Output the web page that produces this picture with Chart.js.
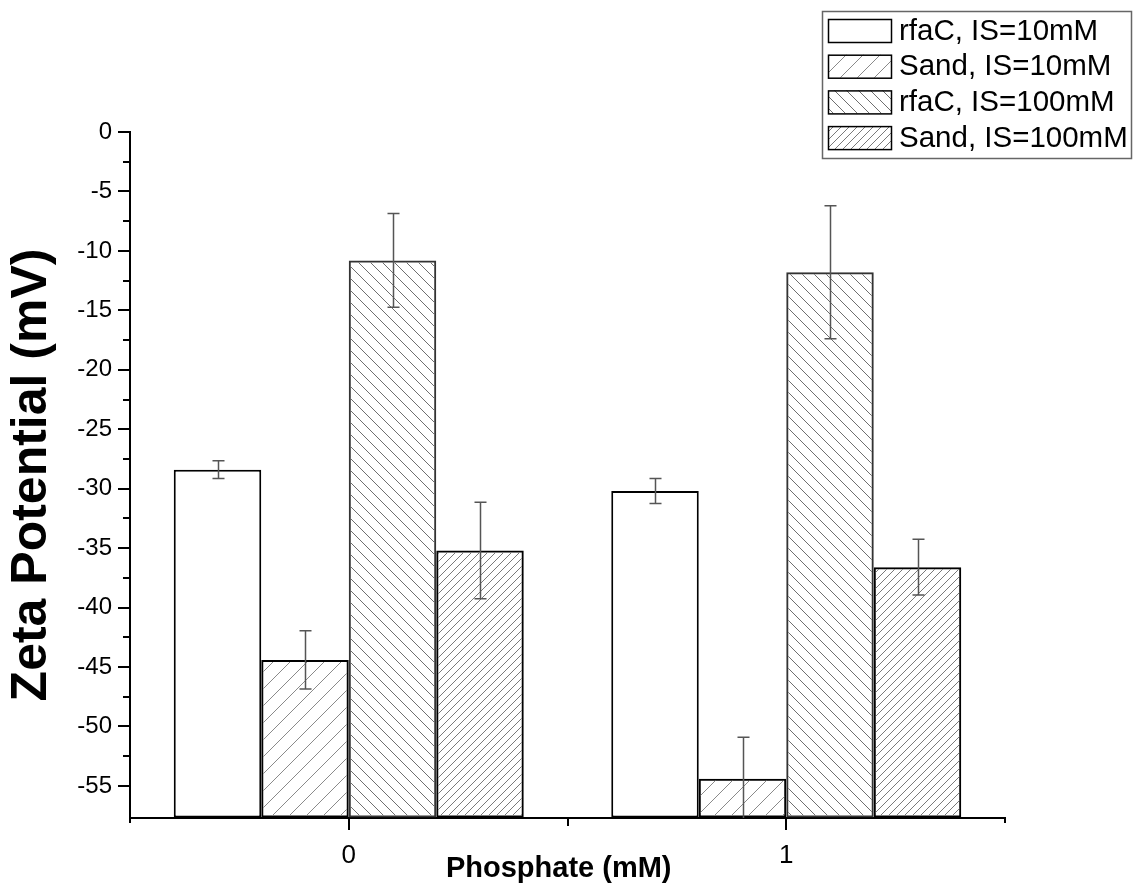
<!DOCTYPE html>
<html>
<head>
<meta charset="utf-8">
<script src="https://cdn.jsdelivr.net/npm/chart.js@4.4.1/dist/chart.umd.min.js"></script>
<style>
  html, body { margin: 0; padding: 0; background: #fff; }
  #wrap { width: 1133px; height: 890px; }
</style>
</head>
<body>
<div id="wrap"><canvas id="zeta"></canvas></div>
<script>
// Zeta potential per phosphate level
var phosphate = ["0", "1"];
var seriesNames = ["rfaC, IS=10mM", "Sand, IS=10mM", "rfaC, IS=100mM", "Sand, IS=100mM"];
var rfac10  = [-28.4, -30.2];
var sand10  = [-44.4, -54.4];
var rfac100 = [-10.8, -11.8];
var sand100 = [-35.2, -36.6];
var rfac10Err  = [0.75, 1.05];
var sand10Err  = [2.45, 3.5];
var rfac100Err = [3.95, 5.6];
var sand100Err = [4.05, 2.35];
var yMin = -57.7;
var yMax = 0;

var FONT = "'Liberation Sans', Arial, sans-serif";

// hatch fill: dir 1 = "/", dir -1 = "\"
function hatch(step, dir, color) {
  var c = document.createElement("canvas");
  c.width = step; c.height = step;
  var g = c.getContext("2d");
  g.strokeStyle = color;
  g.lineWidth = 1;
  for (var k = -1; k <= 1; k++) {
    var x0 = k * step;
    g.beginPath();
    if (dir > 0) { g.moveTo(x0, step); g.lineTo(x0 + step, 0); }
    else { g.moveTo(x0, 0); g.lineTo(x0 + step, step); }
    g.stroke();
  }
  var p = document.getElementById("zeta").getContext("2d").createPattern(c, "repeat");
  return p;
}

var fills = ["#ffffff", hatch(17, 1, "#8a8a8a"), hatch(12, -1, "#6f6f6f"), hatch(8, 1, "#7a7a7a")];
var values = [rfac10, sand10, rfac100, sand100];
var errors = [rfac10Err, sand10Err, rfac100Err, sand100Err];

var datasets = values.map(function (v, i) {
  return {
    label: seriesNames[i],
    data: v,
    base: yMin,
    backgroundColor: fills[i],
    borderColor: i === 2 ? "#333" : "#000",
    borderWidth: 2,
    borderSkipped: false,
    errors: errors[i]
  };
});

// error bars, clipped to the plot area
var errorBars = {
  id: "errorBars",
  afterDatasetsDraw: function (chart) {
    var ctx = chart.ctx, y = chart.scales.y, a = chart.chartArea;
    ctx.save();
    ctx.beginPath();
    ctx.rect(a.left, a.top, a.right - a.left, a.bottom - a.top);
    ctx.clip();
    ctx.strokeStyle = "#555";
    ctx.lineWidth = 1.5;
    chart.data.datasets.forEach(function (ds, i) {
      chart.getDatasetMeta(i).data.forEach(function (bar, j) {
        var x = Math.round(bar.x) + 0.5;
        var hi = y.getPixelForValue(ds.data[j] + ds.errors[j]);
        var lo = y.getPixelForValue(ds.data[j] - ds.errors[j]);
        ctx.beginPath();
        ctx.moveTo(x, hi); ctx.lineTo(x, lo);
        ctx.moveTo(x - 6, hi); ctx.lineTo(x + 6, hi);
        ctx.moveTo(x - 6, lo); ctx.lineTo(x + 6, lo);
        ctx.stroke();
      });
    });
    ctx.restore();
  }
};

// major and minor tick marks on both axes
var tickMarks = {
  id: "tickMarks",
  afterDraw: function (chart) {
    var ctx = chart.ctx, xs = chart.scales.x, ys = chart.scales.y, a = chart.chartArea;
    ctx.save();
    ctx.strokeStyle = "#000";
    ctx.lineWidth = 2;
    ctx.beginPath();
    ys.ticks.forEach(function (t) {
      var v = t.value;
      if (Math.abs(v / 2.5 - Math.round(v / 2.5)) > 1e-6) return;
      var py = Math.round(ys.getPixelForValue(v));
      var len = Math.abs(v % 5) < 1e-6 ? 12 : 7;
      ctx.moveTo(a.left, py); ctx.lineTo(a.left - len, py);
    });
    var step = xs.getPixelForValue(1) - xs.getPixelForValue(0);
    phosphate.forEach(function (c, i) {
      var px = Math.round(xs.getPixelForValue(i));
      ctx.moveTo(px, a.bottom); ctx.lineTo(px, a.bottom + 12);
    });
    for (var i = -0.5; i <= phosphate.length - 0.5; i++) {
      var bx = Math.round(xs.getPixelForValue(0) + i * step);
      var blen = (i === -0.5 || i === phosphate.length - 0.5) ? 5 : 8;
      ctx.moveTo(bx, a.bottom); ctx.lineTo(bx, a.bottom + blen);
    }
    ctx.stroke();
    ctx.restore();
  }
};

// axis titles
var axisTitles = {
  id: "axisTitles",
  afterDraw: function (chart) {
    var ctx = chart.ctx, a = chart.chartArea;
    ctx.save();
    ctx.fillStyle = "#000";
    ctx.textAlign = "center";
    ctx.textBaseline = "middle";
    ctx.font = "bold 29px " + FONT;
    ctx.fillText("Phosphate (mM)", a.left + (a.right - a.left) * 0.49, 869);
    ctx.translate(32, (a.top + a.bottom) / 2);
    ctx.rotate(-Math.PI / 2);
    ctx.font = "bold 50px " + FONT;
    ctx.fillText("Zeta Potential (mV)", 0, 0);
    ctx.restore();
  }
};

// boxed legend in the upper right corner
var boxLegend = {
  id: "boxLegend",
  afterDraw: function (chart) {
    var ctx = chart.ctx;
    ctx.save();
    ctx.fillStyle = "#fff";
    ctx.fillRect(822, 11, 309, 147);
    ctx.strokeStyle = "#666";
    ctx.lineWidth = 1.5;
    ctx.strokeRect(822.5, 11.5, 309, 147);
    ctx.font = "29.5px " + FONT;
    ctx.textBaseline = "middle";
    chart.data.datasets.forEach(function (ds, i) {
      var top = 19 + i * 35.7;
      ctx.fillStyle = ds.backgroundColor;
      ctx.fillRect(828, top, 63, 23);
      ctx.strokeStyle = "#000";
      ctx.lineWidth = 1.5;
      ctx.strokeRect(828.5, top + 0.5, 63, 23);
      ctx.fillStyle = "#000";
      ctx.fillText(ds.label, 899, top + 12.5);
    });
    ctx.restore();
  }
};

new Chart(document.getElementById("zeta"), {
  type: "bar",
  data: { labels: phosphate, datasets: datasets },
  plugins: [errorBars, tickMarks, axisTitles, boxLegend],
  options: {
    responsive: true,
    maintainAspectRatio: false,
    animation: false,
    layout: { padding: { top: 132, right: 128, left: 0, bottom: 0 } },
    datasets: { bar: { categoryPercentage: 0.8, barPercentage: 1.0 } },
    plugins: { legend: { display: false }, tooltip: { enabled: false } },
    scales: {
      x: {
        offset: true,
        afterFit: function (s) { s.height = 72; },
        grid: { display: true, drawOnChartArea: false, tickLength: 12, tickColor: "transparent" },
        border: { color: "#000", width: 2 },
        ticks: { color: "#000", font: { family: FONT, size: 26 }, padding: 10 }
      },
      y: {
        min: yMin,
        max: yMax,
        afterFit: function (s) { s.width = 130; },
        grid: { display: true, drawOnChartArea: false, tickLength: 12, tickColor: "transparent" },
        border: { color: "#000", width: 2 },
        ticks: {
          stepSize: 2.5,
          autoSkip: false,
          color: "#000",
          padding: 6,
          font: { family: FONT, size: 24 },
          callback: function (v) { return Math.abs(v % 5) < 1e-6 ? String(v) : ""; }
        }
      }
    }
  }
});
</script>
</body>
</html>
